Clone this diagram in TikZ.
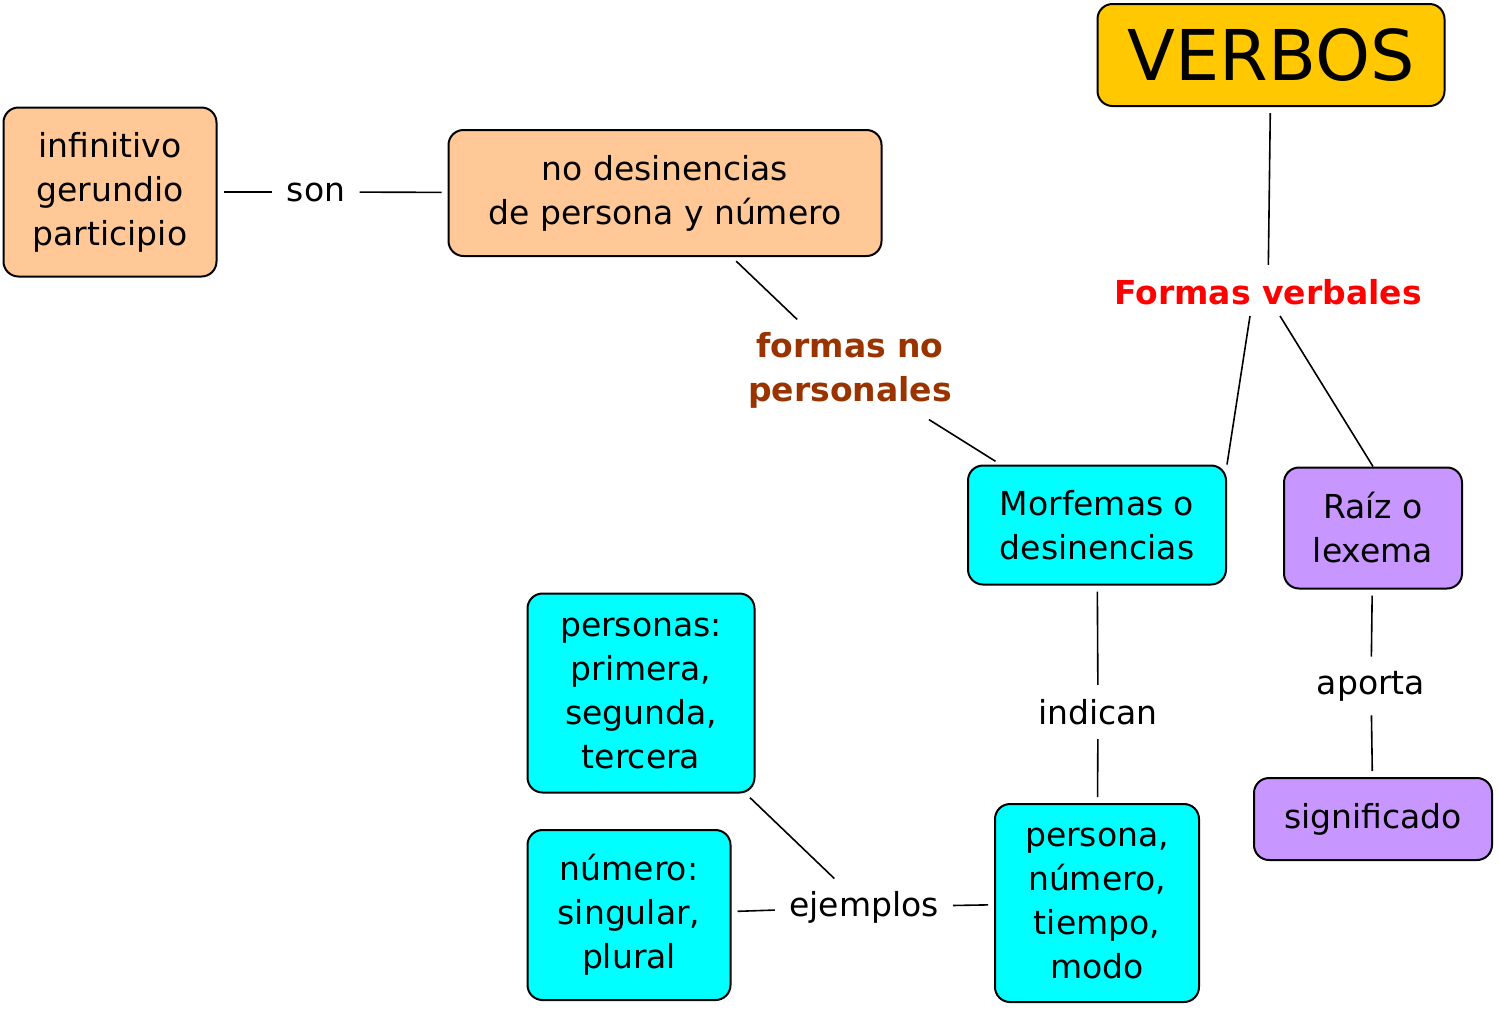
\documentclass[tikz,border=0pt]{standalone}
\usepackage{fontspec}
\setmainfont{DejaVu Sans}
\usetikzlibrary{positioning}
\definecolor{gold}{HTML}{FFC800}
\definecolor{peach}{HTML}{FFC896}
\definecolor{aqua}{HTML}{00FFFF}
\definecolor{lila}{HTML}{C896FF}
\definecolor{brownlbl}{HTML}{993300}
\begin{document}
\begin{tikzpicture}[x=0.5pt,y=-0.5pt,
    box/.style={draw, line width=1pt, rounded corners=7.5pt, align=center, inner sep=0pt, font=\fontsize{16.5}{22}\selectfont},
    lbl/.style={align=center, inner sep=4pt, font=\fontsize{16.5}{22}\selectfont},
    link/.style={line width=0.8pt, shorten <=3pt, shorten >=3pt},
]
\useasboundingbox (0,0) rectangle (1499,1009);

% Boxes
\node[box, fill=gold, minimum width=173.5pt, minimum height=51pt, font=\fontsize{35}{40}\selectfont] (verbos) at (1271,55) {VERBOS};
\node[box, fill=peach, minimum width=106.5pt, minimum height=84.5pt] (inf) at (110,192) {infinitivo\\gerundio\\participio};
\node[box, fill=peach, minimum width=216.5pt, minimum height=63pt] (nodes) at (665,193) {no desinencias\\de persona y número};
\node[box, fill=aqua, minimum width=129pt, minimum height=59.5pt] (morf) at (1097,525) {Morfemas o\\desinencias};
\node[box, fill=lila, minimum width=89pt, minimum height=60.5pt] (raiz) at (1373,528) {Raíz o\\lexema};
\node[box, fill=lila, minimum width=119pt, minimum height=41pt] (signif) at (1373,819) {significado};
\node[box, fill=aqua, minimum width=113.5pt, minimum height=99.5pt] (pers) at (641,693) {personas:\\primera,\\segunda,\\tercera};
\node[box, fill=aqua, minimum width=101.5pt, minimum height=85pt] (num) at (629,915) {número:\\singular,\\plural};
\node[box, fill=aqua, minimum width=102pt, minimum height=99pt] (pnt) at (1097,903) {persona,\\número,\\tiempo,\\modo};

% Labels
\node[lbl] (son) at (316,192) {son};
\node[lbl, text=brownlbl, font=\fontsize{16.5}{22}\selectfont\bfseries] (fnp) at (850,370) {formas no\\personales};
\node[lbl, text=red, font=\fontsize{16.5}{22}\selectfont\bfseries] (fv) at (1268,292) {Formas verbales};
\node[lbl] (indican) at (1098,712) {indican};
\node[lbl] (aporta) at (1371,686) {aporta};
\node[lbl] (ejem) at (864,907) {ejemplos};

% Connectors
\draw[link] (verbos) -- (fv);
\draw[link] (fv.south west) ++(-4,0) coordinate (fva) (fv) ++(-18,24) coordinate (fvl) (fvl) -- (morf.north east) ++(-80,0);
\draw[link] (fv) ++(12,24) coordinate (fvr) (fvr) -- (raiz.north) ++(-30,0);
\draw[link] (morf) -- (fnp);
\draw[link] (fnp) -- (nodes);
\draw[link] (nodes) -- (son);
\draw[link] (son) -- (inf);
\draw[link] (morf) -- (indican);
\draw[link] (indican) -- (pnt);
\draw[link] (raiz) -- (aporta);
\draw[link] (aporta) -- (signif);
\draw[link] (pnt) -- (ejem);
\draw[link] (ejem) -- (num);
\draw[link] (ejem) -- (pers);
\end{tikzpicture}
\end{document}
